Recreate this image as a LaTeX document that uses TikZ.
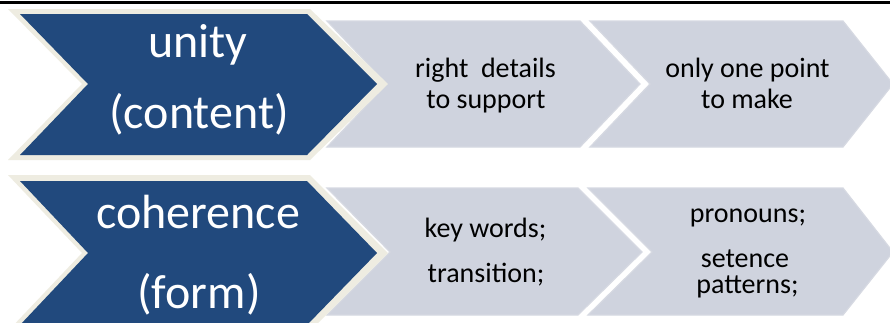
\documentclass[tikz,border=0pt]{standalone}
\usepackage{fontspec}
\setmainfont{Carlito}
\definecolor{chevblue}{RGB}{33,73,125}
\definecolor{chevcream}{RGB}{238,236,225}
\definecolor{chevgray}{RGB}{207,211,222}
\definecolor{chevgrayedge}{RGB}{214,217,226}
\tikzset{
  bluebox/.style={fill=chevblue},
  creambox/.style={fill=chevcream},
  graybox/.style={fill=chevgray, draw=chevgrayedge, line width=1.2pt, line join=miter},
  bigtxt/.style={anchor=base, text=white, font=\fontsize{48}{58}\selectfont, inner sep=0pt},
  smalltxt/.style={anchor=base, text=black, font=\fontsize{28}{34}\selectfont, inner sep=0pt}
}
\begin{document}
\begin{tikzpicture}[x=1pt,y=-1pt]
\useasboundingbox (0,0) rectangle (890,322);
\fill[white] (0,0) rectangle (890,322);
\coordinate (ruleL) at (0,2.5);
\coordinate (ruleR) at (890,2.5);
\draw[line width=3pt] (ruleL) -- (ruleR);

% ---- row 1 ----
\path[graybox] (327,21) -- (580,21) -- (640,84) -- (580,147) -- (327,147) -- (387,84) -- cycle;
\path[graybox] (590,21) -- (843,21) -- (893,84) -- (843,147) -- (590,147) -- (650,84) -- cycle;
\path[creambox] (8,9) -- (310,9) -- (388,84) -- (310,160) -- (8,160) -- (82,84) -- cycle;
\path[bluebox] (20,14) -- (307,14) -- (377,84) -- (307,155) -- (20,155) -- (88,84) -- cycle;

% ---- row 2 ----
\path[graybox] (327,188) -- (578,188) -- (642,252) -- (578,315) -- (327,315) -- (390,252) -- cycle;
\path[graybox] (588,188) -- (843,188) -- (893,252) -- (843,315) -- (588,315) -- (652,252) -- cycle;
\path[creambox] (8,175) -- (310,175) -- (388,253) -- (310,331) -- (8,331) -- (82,253) -- cycle;
\path[bluebox] (20,181) -- (307,181) -- (377,253) -- (307,325) -- (20,325) -- (88,253) -- cycle;

% ---- texts ----
\node[bigtxt] (unity) at (198,57) {unity};
\node[bigtxt] (content) at (199,128) {(content)};
\node[bigtxt] (coherence) at (198,228) {coherence};
\node[bigtxt] (form) at (199,308) {(form)};

\node[smalltxt] (right) at (485.5,77) {right\ \ details};
\node[smalltxt] (support) at (486,108) {to support};
\node[smalltxt] (onlyone) at (747.5,77) {only one point};
\node[smalltxt] (make) at (747,108) {to make};

\node[smalltxt] (key) at (485.5,237) {key words;};
\node[smalltxt] (trans) at (486,282) {transition;};
\node[smalltxt] (pron) at (748,222) {pronouns;};
\node[smalltxt] (setence) at (745,267) {setence};
\node[smalltxt] (patterns) at (747.5,293) {patterns;};
\end{tikzpicture}
\end{document}
